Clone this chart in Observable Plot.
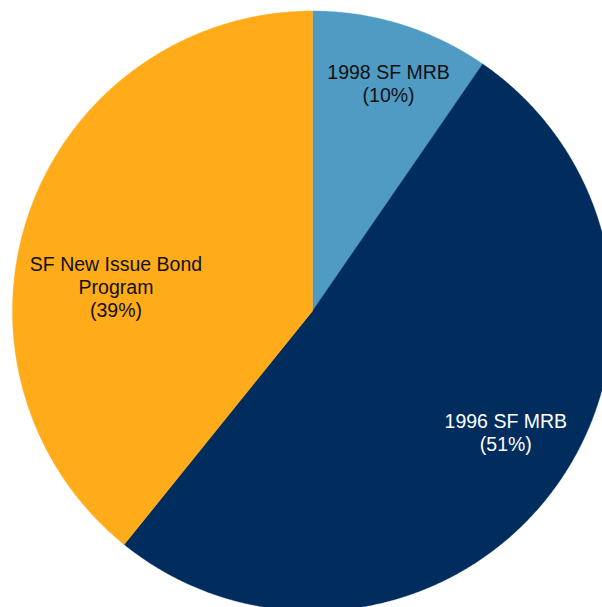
<!DOCTYPE html>
<html>
<head>
<meta charset="utf-8">
<script src="https://cdn.jsdelivr.net/npm/d3@7"></script>
<script src="https://cdn.jsdelivr.net/npm/@observablehq/plot@0.6"></script>
<style>
  html, body { margin: 0; padding: 0; background: #fff; overflow: hidden; }
  #chart svg { display: block; overflow: hidden; }
</style>
</head>
<body>
<div id="chart"></div>
<script>
// ---- data ----
const categories = ["1998 SF MRB", "1996 SF MRB", "SF New Issue Bond Program"];
const shares = [9.6, 51.2, 39.2];
const labelTexts = ["1998 SF MRB\n(10%)", "1996 SF MRB\n(51%)", "SF New Issue Bond\nProgram\n(39%)"];

// ---- styles ----
const colors = ["#4F9BC4", "#002D5E", "#FFAB1A"];
const textColors = ["#111", "#fff", "#111"];
// label placement: radius fraction and angle shift (degrees) relative to slice middle
const labelRadius = [0.80, 0.76, 0.66];
const labelShift = [1.2, -4.7, -12.4];

const table = categories.map((c, i) => ({category: c, share: shares[i], label: labelTexts[i], i}));
const arcs = d3.pie().sort(null).value(d => d.share)(table);

// slice outlines in unit-circle coordinates (angle clockwise from 12 o'clock)
const pts = [];
for (const a of arcs) {
  const c = a.data.category;
  pts.push({category: c, x: 0, y: 0});
  const n = Math.max(2, Math.ceil((a.endAngle - a.startAngle) / (Math.PI / 720)));
  for (let k = 0; k <= n; k++) {
    const t = a.startAngle + (a.endAngle - a.startAngle) * k / n;
    pts.push({category: c, x: Math.sin(t), y: Math.cos(t)});
  }
  pts.push({category: c, x: 0, y: 0});
}

const labels = arcs.map(a => {
  const i = a.data.i;
  const m = (a.startAngle + a.endAngle) / 2 + labelShift[i] * Math.PI / 180;
  return {label: a.data.label, x: labelRadius[i] * Math.sin(m), y: labelRadius[i] * Math.cos(m), color: textColors[i]};
});

const cx = 312, cy = 310.5, R = 300;

const chart = Plot.plot({
  width: 602,
  height: 607,
  margin: 0,
  x: {type: "linear", domain: [-1, 1], range: [cx - R, cx + R], axis: null},
  y: {type: "linear", domain: [-1, 1], range: [cy + R, cy - R], axis: null},
  color: {domain: categories, range: colors},
  style: {fontFamily: "'Liberation Sans', Arial, sans-serif", background: "#fff"},
  marks: [
    Plot.line(pts, {x: "x", y: "y", z: "category", fill: "category", stroke: "category", strokeWidth: 0.4, curve: "linear"}),
    Plot.text(labels, {x: "x", y: "y", text: "label", fill: "color", fontSize: 19.5, lineHeight: 1.18, textAnchor: "middle", lineAnchor: "middle"})
  ]
});
document.getElementById("chart").appendChild(chart);
</script>
</body>
</html>
